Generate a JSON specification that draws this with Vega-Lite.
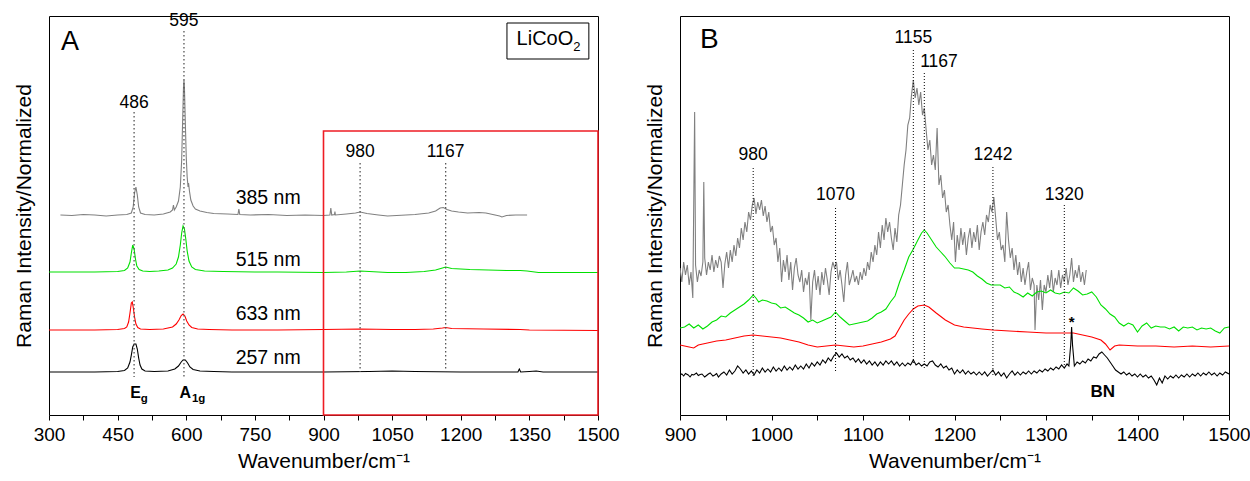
{
"$schema": "https://vega.github.io/schema/vega-lite/v6.json",
"padding": {"left": 12, "top": 11, "right": 5, "bottom": 4},
"background": "white",
"config": {"view": {"stroke": "black", "strokeWidth": 1}, "font": "Liberation Sans", "text": {"font": "Liberation Sans", "color": "black"}},
"bounds": "flush",
"spacing": 82,
"resolve": {"scale": {"color": "independent", "stroke": "independent"}, "legend": {"color": "independent", "stroke": "independent"}},
"datasets": {
"specA": [
{"s":"385 nm","x":325,"y":200},{"s":"385 nm","x":350,"y":199.5},{"s":"385 nm","x":375,"y":200.5},{"s":"385 nm","x":400,"y":200},{"s":"385 nm","x":425,"y":199},{"s":"385 nm","x":450,"y":200},{"s":"385 nm","x":470,"y":200.5},{"s":"385 nm","x":480,"y":202},{"s":"385 nm","x":484,"y":208},{"s":"385 nm","x":487,"y":222},{"s":"385 nm","x":490,"y":228},{"s":"385 nm","x":493,"y":220},{"s":"385 nm","x":496,"y":208},{"s":"385 nm","x":500,"y":202},{"s":"385 nm","x":510,"y":200.5},{"s":"385 nm","x":530,"y":200},{"s":"385 nm","x":550,"y":201},{"s":"385 nm","x":565,"y":203},{"s":"385 nm","x":570,"y":205},{"s":"385 nm","x":572,"y":210},{"s":"385 nm","x":574,"y":205},{"s":"385 nm","x":578,"y":208},{"s":"385 nm","x":583,"y":214},{"s":"385 nm","x":587,"y":228},{"s":"385 nm","x":590,"y":255},{"s":"385 nm","x":592,"y":292},{"s":"385 nm","x":594,"y":328},{"s":"385 nm","x":595,"y":335},{"s":"385 nm","x":596,"y":328},{"s":"385 nm","x":598,"y":292},{"s":"385 nm","x":600,"y":258},{"s":"385 nm","x":602,"y":238},{"s":"385 nm","x":604,"y":228},{"s":"385 nm","x":605,"y":232},{"s":"385 nm","x":607,"y":224},{"s":"385 nm","x":610,"y":215},{"s":"385 nm","x":615,"y":209},{"s":"385 nm","x":620,"y":206},{"s":"385 nm","x":630,"y":204},{"s":"385 nm","x":645,"y":202.5},{"s":"385 nm","x":660,"y":201.5},{"s":"385 nm","x":690,"y":201},{"s":"385 nm","x":713,"y":200.5},{"s":"385 nm","x":715,"y":206},{"s":"385 nm","x":717,"y":200.5},{"s":"385 nm","x":740,"y":200},{"s":"385 nm","x":780,"y":200.5},{"s":"385 nm","x":820,"y":199.5},{"s":"385 nm","x":860,"y":200},{"s":"385 nm","x":900,"y":199.5},{"s":"385 nm","x":914,"y":200},{"s":"385 nm","x":916,"y":207},{"s":"385 nm","x":918,"y":200},{"s":"385 nm","x":924,"y":200.5},{"s":"385 nm","x":925,"y":203.5},{"s":"385 nm","x":926,"y":200},{"s":"385 nm","x":950,"y":201},{"s":"385 nm","x":970,"y":202},{"s":"385 nm","x":980,"y":203},{"s":"385 nm","x":995,"y":201.5},{"s":"385 nm","x":1020,"y":200},{"s":"385 nm","x":1040,"y":199},{"s":"385 nm","x":1060,"y":199.5},{"s":"385 nm","x":1080,"y":200},{"s":"385 nm","x":1100,"y":200.5},{"s":"385 nm","x":1130,"y":202},{"s":"385 nm","x":1145,"y":204},{"s":"385 nm","x":1155,"y":207},{"s":"385 nm","x":1162,"y":207.5},{"s":"385 nm","x":1170,"y":205.5},{"s":"385 nm","x":1180,"y":204},{"s":"385 nm","x":1195,"y":203},{"s":"385 nm","x":1215,"y":202},{"s":"385 nm","x":1240,"y":202.5},{"s":"385 nm","x":1255,"y":202},{"s":"385 nm","x":1270,"y":200.5},{"s":"385 nm","x":1285,"y":199},{"s":"385 nm","x":1290,"y":198},{"s":"385 nm","x":1300,"y":199.5},{"s":"385 nm","x":1320,"y":200},{"s":"385 nm","x":1345,"y":200},
{"s":"515 nm","x":300,"y":143},{"s":"515 nm","x":400,"y":143},{"s":"515 nm","x":450,"y":143.5},{"s":"515 nm","x":465,"y":144.5},{"s":"515 nm","x":472,"y":147},{"s":"515 nm","x":477,"y":153},{"s":"515 nm","x":480,"y":162},{"s":"515 nm","x":483,"y":170},{"s":"515 nm","x":486,"y":166},{"s":"515 nm","x":489,"y":156},{"s":"515 nm","x":492,"y":149},{"s":"515 nm","x":497,"y":145.5},{"s":"515 nm","x":505,"y":144},{"s":"515 nm","x":520,"y":143.5},{"s":"515 nm","x":540,"y":144},{"s":"515 nm","x":560,"y":145},{"s":"515 nm","x":570,"y":147},{"s":"515 nm","x":578,"y":151},{"s":"515 nm","x":583,"y":158},{"s":"515 nm","x":587,"y":170},{"s":"515 nm","x":590,"y":182},{"s":"515 nm","x":593,"y":189},{"s":"515 nm","x":596,"y":186},{"s":"515 nm","x":599,"y":176},{"s":"515 nm","x":602,"y":164},{"s":"515 nm","x":606,"y":154},{"s":"515 nm","x":612,"y":148},{"s":"515 nm","x":620,"y":145.5},{"s":"515 nm","x":640,"y":144},{"s":"515 nm","x":680,"y":143.5},{"s":"515 nm","x":750,"y":143},{"s":"515 nm","x":800,"y":143},{"s":"515 nm","x":900,"y":142.5},{"s":"515 nm","x":950,"y":143},{"s":"515 nm","x":980,"y":144},{"s":"515 nm","x":1000,"y":143.5},{"s":"515 nm","x":1040,"y":142.5},{"s":"515 nm","x":1080,"y":142.5},{"s":"515 nm","x":1120,"y":143.5},{"s":"515 nm","x":1145,"y":145},{"s":"515 nm","x":1160,"y":147},{"s":"515 nm","x":1167,"y":148},{"s":"515 nm","x":1180,"y":146.5},{"s":"515 nm","x":1220,"y":145.5},{"s":"515 nm","x":1260,"y":145},{"s":"515 nm","x":1300,"y":144.5},{"s":"515 nm","x":1330,"y":144.5},{"s":"515 nm","x":1345,"y":144},{"s":"515 nm","x":1370,"y":142.5},{"s":"515 nm","x":1400,"y":142.5},{"s":"515 nm","x":1450,"y":142.5},{"s":"515 nm","x":1500,"y":142.5},
{"s":"633 nm","x":300,"y":85},{"s":"633 nm","x":400,"y":85},{"s":"633 nm","x":450,"y":85.5},{"s":"633 nm","x":465,"y":86.5},{"s":"633 nm","x":470,"y":88},{"s":"633 nm","x":474,"y":93},{"s":"633 nm","x":477,"y":102},{"s":"633 nm","x":480,"y":112},{"s":"633 nm","x":482,"y":113},{"s":"633 nm","x":484,"y":108},{"s":"633 nm","x":487,"y":98},{"s":"633 nm","x":490,"y":91},{"s":"633 nm","x":494,"y":87.5},{"s":"633 nm","x":500,"y":86},{"s":"633 nm","x":520,"y":85.5},{"s":"633 nm","x":550,"y":86},{"s":"633 nm","x":570,"y":88},{"s":"633 nm","x":578,"y":91},{"s":"633 nm","x":584,"y":95},{"s":"633 nm","x":589,"y":99.5},{"s":"633 nm","x":593,"y":101},{"s":"633 nm","x":597,"y":99},{"s":"633 nm","x":601,"y":94},{"s":"633 nm","x":606,"y":90},{"s":"633 nm","x":612,"y":87.5},{"s":"633 nm","x":625,"y":86},{"s":"633 nm","x":650,"y":85.5},{"s":"633 nm","x":700,"y":85},{"s":"633 nm","x":800,"y":85},{"s":"633 nm","x":900,"y":85.5},{"s":"633 nm","x":980,"y":86},{"s":"633 nm","x":1050,"y":85.5},{"s":"633 nm","x":1100,"y":85.5},{"s":"633 nm","x":1140,"y":86},{"s":"633 nm","x":1160,"y":87},{"s":"633 nm","x":1167,"y":87.5},{"s":"633 nm","x":1180,"y":86.5},{"s":"633 nm","x":1250,"y":86},{"s":"633 nm","x":1330,"y":85.5},{"s":"633 nm","x":1350,"y":85},{"s":"633 nm","x":1500,"y":84.5},
{"s":"257 nm","x":300,"y":43},{"s":"257 nm","x":400,"y":43},{"s":"257 nm","x":450,"y":43.5},{"s":"257 nm","x":465,"y":44.5},{"s":"257 nm","x":472,"y":47},{"s":"257 nm","x":477,"y":53},{"s":"257 nm","x":480,"y":60},{"s":"257 nm","x":483,"y":68},{"s":"257 nm","x":486,"y":71},{"s":"257 nm","x":490,"y":71},{"s":"257 nm","x":493,"y":66},{"s":"257 nm","x":496,"y":57},{"s":"257 nm","x":499,"y":50},{"s":"257 nm","x":503,"y":46},{"s":"257 nm","x":510,"y":44},{"s":"257 nm","x":530,"y":43.5},{"s":"257 nm","x":560,"y":44},{"s":"257 nm","x":575,"y":46},{"s":"257 nm","x":583,"y":49},{"s":"257 nm","x":589,"y":53},{"s":"257 nm","x":593,"y":55},{"s":"257 nm","x":598,"y":55},{"s":"257 nm","x":603,"y":52},{"s":"257 nm","x":608,"y":48},{"s":"257 nm","x":615,"y":45.5},{"s":"257 nm","x":630,"y":44},{"s":"257 nm","x":660,"y":43.5},{"s":"257 nm","x":700,"y":43},{"s":"257 nm","x":800,"y":43},{"s":"257 nm","x":900,"y":43},{"s":"257 nm","x":1000,"y":43.5},{"s":"257 nm","x":1050,"y":44},{"s":"257 nm","x":1100,"y":43.5},{"s":"257 nm","x":1200,"y":43},{"s":"257 nm","x":1300,"y":43},{"s":"257 nm","x":1325,"y":43},{"s":"257 nm","x":1328,"y":46},{"s":"257 nm","x":1331,"y":43},{"s":"257 nm","x":1350,"y":43.5},{"s":"257 nm","x":1365,"y":44},{"s":"257 nm","x":1380,"y":43},{"s":"257 nm","x":1500,"y":43}
],
"rulesA": [
{"x":595,"y":384,"y2":38},{"x":486,"y":303,"y2":38},{"x":980,"y":252,"y2":43},{"x":1167,"y":252,"y2":43}
],
"textA": [
{"k":"pk","t":"595","x":595,"y":394},{"k":"pk","t":"486","x":486,"y":312},{"k":"pk","t":"980","x":980,"y":263},{"k":"pk","t":"1167","x":1167,"y":263},
{"k":"nm","t":"385 nm","x":779,"y":217},{"k":"nm","t":"515 nm","x":779,"y":155},{"k":"nm","t":"633 nm","x":779,"y":101},{"k":"nm","t":"257 nm","x":779,"y":57},
{"k":"big","t":"A","x":346,"y":373},
{"k":"mode","t":"E","x":489,"y":22},{"k":"mode","t":"A","x":598,"y":22},
{"k":"sub","t":"g","x":508,"y":16},{"k":"sub","t":"1g","x":627,"y":16},
{"k":"box","t":"LiCoO","x":1384,"y":376},{"k":"boxsub","t":"2","x":1454,"y":368}
],
"specB": [
{"s":"385 nm","x":900,"y":147},{"s":"385 nm","x":902,"y":133},{"s":"385 nm","x":904,"y":153},{"s":"385 nm","x":906,"y":140},{"s":"385 nm","x":908,"y":150},{"s":"385 nm","x":910,"y":130},{"s":"385 nm","x":912,"y":143},{"s":"385 nm","x":914,"y":117},{"s":"385 nm","x":916,"y":303},{"s":"385 nm","x":917,"y":150},{"s":"385 nm","x":919,"y":133},{"s":"385 nm","x":921,"y":145},{"s":"385 nm","x":923,"y":139},{"s":"385 nm","x":925,"y":153},{"s":"385 nm","x":926,"y":233},{"s":"385 nm","x":927,"y":157},{"s":"385 nm","x":929,"y":140},{"s":"385 nm","x":931,"y":153},{"s":"385 nm","x":933,"y":145},{"s":"385 nm","x":935,"y":160},{"s":"385 nm","x":937,"y":143},{"s":"385 nm","x":939,"y":155},{"s":"385 nm","x":941,"y":147},{"s":"385 nm","x":943,"y":159},{"s":"385 nm","x":945,"y":153},{"s":"385 nm","x":947,"y":127},{"s":"385 nm","x":949,"y":151},{"s":"385 nm","x":951,"y":163},{"s":"385 nm","x":953,"y":147},{"s":"385 nm","x":955,"y":165},{"s":"385 nm","x":957,"y":153},{"s":"385 nm","x":959,"y":170},{"s":"385 nm","x":961,"y":159},{"s":"385 nm","x":963,"y":177},{"s":"385 nm","x":965,"y":167},{"s":"385 nm","x":967,"y":187},{"s":"385 nm","x":969,"y":175},{"s":"385 nm","x":971,"y":193},{"s":"385 nm","x":973,"y":183},{"s":"385 nm","x":975,"y":203},{"s":"385 nm","x":977,"y":195},{"s":"385 nm","x":979,"y":210},{"s":"385 nm","x":981,"y":217},{"s":"385 nm","x":983,"y":201},{"s":"385 nm","x":985,"y":213},{"s":"385 nm","x":987,"y":205},{"s":"385 nm","x":989,"y":215},{"s":"385 nm","x":991,"y":199},{"s":"385 nm","x":993,"y":209},{"s":"385 nm","x":995,"y":193},{"s":"385 nm","x":997,"y":203},{"s":"385 nm","x":999,"y":183},{"s":"385 nm","x":1001,"y":189},{"s":"385 nm","x":1003,"y":170},{"s":"385 nm","x":1005,"y":177},{"s":"385 nm","x":1007,"y":153},{"s":"385 nm","x":1009,"y":167},{"s":"385 nm","x":1011,"y":133},{"s":"385 nm","x":1013,"y":155},{"s":"385 nm","x":1015,"y":143},{"s":"385 nm","x":1017,"y":160},{"s":"385 nm","x":1019,"y":135},{"s":"385 nm","x":1021,"y":153},{"s":"385 nm","x":1023,"y":125},{"s":"385 nm","x":1025,"y":147},{"s":"385 nm","x":1027,"y":157},{"s":"385 nm","x":1029,"y":140},{"s":"385 nm","x":1031,"y":133},{"s":"385 nm","x":1033,"y":145},{"s":"385 nm","x":1035,"y":123},{"s":"385 nm","x":1037,"y":137},{"s":"385 nm","x":1039,"y":130},{"s":"385 nm","x":1041,"y":143},{"s":"385 nm","x":1043,"y":95},{"s":"385 nm","x":1045,"y":133},{"s":"385 nm","x":1047,"y":145},{"s":"385 nm","x":1049,"y":125},{"s":"385 nm","x":1051,"y":139},{"s":"385 nm","x":1053,"y":120},{"s":"385 nm","x":1055,"y":143},{"s":"385 nm","x":1057,"y":130},{"s":"385 nm","x":1059,"y":147},{"s":"385 nm","x":1061,"y":135},{"s":"385 nm","x":1063,"y":120},{"s":"385 nm","x":1065,"y":143},{"s":"385 nm","x":1067,"y":153},{"s":"385 nm","x":1069,"y":147},{"s":"385 nm","x":1071,"y":153},{"s":"385 nm","x":1073,"y":135},{"s":"385 nm","x":1075,"y":145},{"s":"385 nm","x":1077,"y":130},{"s":"385 nm","x":1079,"y":113},{"s":"385 nm","x":1081,"y":140},{"s":"385 nm","x":1083,"y":153},{"s":"385 nm","x":1085,"y":130},{"s":"385 nm","x":1087,"y":137},{"s":"385 nm","x":1089,"y":145},{"s":"385 nm","x":1091,"y":133},{"s":"385 nm","x":1093,"y":139},{"s":"385 nm","x":1095,"y":130},{"s":"385 nm","x":1097,"y":143},{"s":"385 nm","x":1099,"y":135},{"s":"385 nm","x":1101,"y":147},{"s":"385 nm","x":1103,"y":139},{"s":"385 nm","x":1105,"y":153},{"s":"385 nm","x":1107,"y":145},{"s":"385 nm","x":1109,"y":163},{"s":"385 nm","x":1111,"y":153},{"s":"385 nm","x":1113,"y":170},{"s":"385 nm","x":1115,"y":160},{"s":"385 nm","x":1117,"y":183},{"s":"385 nm","x":1119,"y":167},{"s":"385 nm","x":1121,"y":190},{"s":"385 nm","x":1123,"y":175},{"s":"385 nm","x":1125,"y":197},{"s":"385 nm","x":1127,"y":183},{"s":"385 nm","x":1129,"y":193},{"s":"385 nm","x":1131,"y":177},{"s":"385 nm","x":1133,"y":165},{"s":"385 nm","x":1135,"y":187},{"s":"385 nm","x":1137,"y":173},{"s":"385 nm","x":1139,"y":200},{"s":"385 nm","x":1141,"y":210},{"s":"385 nm","x":1143,"y":230},{"s":"385 nm","x":1145,"y":250},{"s":"385 nm","x":1147,"y":265},{"s":"385 nm","x":1149,"y":290},{"s":"385 nm","x":1151,"y":297},{"s":"385 nm","x":1153,"y":320},{"s":"385 nm","x":1155,"y":335},{"s":"385 nm","x":1157,"y":317},{"s":"385 nm","x":1159,"y":327},{"s":"385 nm","x":1161,"y":310},{"s":"385 nm","x":1163,"y":323},{"s":"385 nm","x":1165,"y":300},{"s":"385 nm","x":1167,"y":307},{"s":"385 nm","x":1169,"y":285},{"s":"385 nm","x":1171,"y":265},{"s":"385 nm","x":1173,"y":275},{"s":"385 nm","x":1175,"y":250},{"s":"385 nm","x":1177,"y":260},{"s":"385 nm","x":1179,"y":245},{"s":"385 nm","x":1181,"y":287},{"s":"385 nm","x":1183,"y":230},{"s":"385 nm","x":1185,"y":240},{"s":"385 nm","x":1187,"y":217},{"s":"385 nm","x":1189,"y":225},{"s":"385 nm","x":1191,"y":203},{"s":"385 nm","x":1193,"y":210},{"s":"385 nm","x":1195,"y":190},{"s":"385 nm","x":1197,"y":175},{"s":"385 nm","x":1199,"y":193},{"s":"385 nm","x":1201,"y":153},{"s":"385 nm","x":1203,"y":180},{"s":"385 nm","x":1205,"y":165},{"s":"385 nm","x":1207,"y":187},{"s":"385 nm","x":1209,"y":170},{"s":"385 nm","x":1211,"y":183},{"s":"385 nm","x":1213,"y":160},{"s":"385 nm","x":1215,"y":177},{"s":"385 nm","x":1217,"y":187},{"s":"385 nm","x":1219,"y":167},{"s":"385 nm","x":1221,"y":183},{"s":"385 nm","x":1223,"y":173},{"s":"385 nm","x":1225,"y":190},{"s":"385 nm","x":1227,"y":165},{"s":"385 nm","x":1229,"y":183},{"s":"385 nm","x":1231,"y":193},{"s":"385 nm","x":1233,"y":180},{"s":"385 nm","x":1235,"y":200},{"s":"385 nm","x":1237,"y":193},{"s":"385 nm","x":1239,"y":210},{"s":"385 nm","x":1241,"y":203},{"s":"385 nm","x":1243,"y":218},{"s":"385 nm","x":1245,"y":197},{"s":"385 nm","x":1247,"y":175},{"s":"385 nm","x":1249,"y":183},{"s":"385 nm","x":1251,"y":165},{"s":"385 nm","x":1253,"y":170},{"s":"385 nm","x":1255,"y":153},{"s":"385 nm","x":1257,"y":203},{"s":"385 nm","x":1259,"y":175},{"s":"385 nm","x":1261,"y":157},{"s":"385 nm","x":1263,"y":167},{"s":"385 nm","x":1265,"y":145},{"s":"385 nm","x":1267,"y":160},{"s":"385 nm","x":1269,"y":140},{"s":"385 nm","x":1271,"y":153},{"s":"385 nm","x":1273,"y":133},{"s":"385 nm","x":1275,"y":147},{"s":"385 nm","x":1277,"y":130},{"s":"385 nm","x":1279,"y":143},{"s":"385 nm","x":1281,"y":153},{"s":"385 nm","x":1283,"y":125},{"s":"385 nm","x":1285,"y":137},{"s":"385 nm","x":1287,"y":130},{"s":"385 nm","x":1288,"y":85},{"s":"385 nm","x":1290,"y":130},{"s":"385 nm","x":1292,"y":115},{"s":"385 nm","x":1294,"y":135},{"s":"385 nm","x":1296,"y":105},{"s":"385 nm","x":1298,"y":130},{"s":"385 nm","x":1300,"y":123},{"s":"385 nm","x":1302,"y":140},{"s":"385 nm","x":1304,"y":127},{"s":"385 nm","x":1306,"y":145},{"s":"385 nm","x":1308,"y":123},{"s":"385 nm","x":1310,"y":137},{"s":"385 nm","x":1312,"y":130},{"s":"385 nm","x":1314,"y":145},{"s":"385 nm","x":1316,"y":127},{"s":"385 nm","x":1318,"y":140},{"s":"385 nm","x":1320,"y":133},{"s":"385 nm","x":1322,"y":147},{"s":"385 nm","x":1324,"y":130},{"s":"385 nm","x":1326,"y":140},{"s":"385 nm","x":1328,"y":157},{"s":"385 nm","x":1330,"y":133},{"s":"385 nm","x":1332,"y":145},{"s":"385 nm","x":1334,"y":137},{"s":"385 nm","x":1336,"y":150},{"s":"385 nm","x":1338,"y":133},{"s":"385 nm","x":1340,"y":143},{"s":"385 nm","x":1342,"y":130},{"s":"385 nm","x":1344,"y":145},
{"s":"515 nm","x":900,"y":87},{"s":"515 nm","x":905,"y":88},{"s":"515 nm","x":910,"y":91},{"s":"515 nm","x":915,"y":87},{"s":"515 nm","x":920,"y":90},{"s":"515 nm","x":925,"y":86},{"s":"515 nm","x":930,"y":89},{"s":"515 nm","x":935,"y":93},{"s":"515 nm","x":940,"y":95},{"s":"515 nm","x":945,"y":99},{"s":"515 nm","x":950,"y":98},{"s":"515 nm","x":955,"y":102},{"s":"515 nm","x":960,"y":105},{"s":"515 nm","x":965,"y":108},{"s":"515 nm","x":970,"y":111},{"s":"515 nm","x":975,"y":115},{"s":"515 nm","x":980,"y":120},{"s":"515 nm","x":983,"y":117},{"s":"515 nm","x":986,"y":113},{"s":"515 nm","x":990,"y":115},{"s":"515 nm","x":995,"y":114},{"s":"515 nm","x":1000,"y":112},{"s":"515 nm","x":1005,"y":111},{"s":"515 nm","x":1010,"y":107},{"s":"515 nm","x":1015,"y":108},{"s":"515 nm","x":1020,"y":105},{"s":"515 nm","x":1025,"y":102},{"s":"515 nm","x":1030,"y":100},{"s":"515 nm","x":1035,"y":97},{"s":"515 nm","x":1040,"y":93},{"s":"515 nm","x":1045,"y":95},{"s":"515 nm","x":1050,"y":92},{"s":"515 nm","x":1055,"y":94},{"s":"515 nm","x":1060,"y":96},{"s":"515 nm","x":1065,"y":98},{"s":"515 nm","x":1070,"y":103},{"s":"515 nm","x":1075,"y":98},{"s":"515 nm","x":1080,"y":94},{"s":"515 nm","x":1085,"y":90},{"s":"515 nm","x":1090,"y":91},{"s":"515 nm","x":1095,"y":92},{"s":"515 nm","x":1100,"y":93},{"s":"515 nm","x":1105,"y":94},{"s":"515 nm","x":1110,"y":97},{"s":"515 nm","x":1115,"y":101},{"s":"515 nm","x":1120,"y":103},{"s":"515 nm","x":1125,"y":106},{"s":"515 nm","x":1130,"y":113},{"s":"515 nm","x":1135,"y":119},{"s":"515 nm","x":1140,"y":133},{"s":"515 nm","x":1145,"y":145},{"s":"515 nm","x":1150,"y":158},{"s":"515 nm","x":1155,"y":166},{"s":"515 nm","x":1160,"y":175},{"s":"515 nm","x":1164,"y":182},{"s":"515 nm","x":1167,"y":185},{"s":"515 nm","x":1170,"y":182},{"s":"515 nm","x":1175,"y":175},{"s":"515 nm","x":1180,"y":168},{"s":"515 nm","x":1185,"y":163},{"s":"515 nm","x":1190,"y":158},{"s":"515 nm","x":1195,"y":152},{"s":"515 nm","x":1200,"y":147},{"s":"515 nm","x":1205,"y":147},{"s":"515 nm","x":1210,"y":146},{"s":"515 nm","x":1215,"y":145},{"s":"515 nm","x":1220,"y":143},{"s":"515 nm","x":1225,"y":139},{"s":"515 nm","x":1230,"y":136},{"s":"515 nm","x":1235,"y":132},{"s":"515 nm","x":1240,"y":130},{"s":"515 nm","x":1245,"y":130},{"s":"515 nm","x":1250,"y":130},{"s":"515 nm","x":1255,"y":127},{"s":"515 nm","x":1260,"y":128},{"s":"515 nm","x":1265,"y":123},{"s":"515 nm","x":1270,"y":121},{"s":"515 nm","x":1275,"y":118},{"s":"515 nm","x":1280,"y":122},{"s":"515 nm","x":1285,"y":119},{"s":"515 nm","x":1290,"y":123},{"s":"515 nm","x":1295,"y":124},{"s":"515 nm","x":1300,"y":122},{"s":"515 nm","x":1305,"y":125},{"s":"515 nm","x":1310,"y":122},{"s":"515 nm","x":1315,"y":121},{"s":"515 nm","x":1320,"y":123},{"s":"515 nm","x":1325,"y":122},{"s":"515 nm","x":1330,"y":127},{"s":"515 nm","x":1335,"y":124},{"s":"515 nm","x":1340,"y":120},{"s":"515 nm","x":1345,"y":121},{"s":"515 nm","x":1350,"y":123},{"s":"515 nm","x":1355,"y":118},{"s":"515 nm","x":1360,"y":110},{"s":"515 nm","x":1365,"y":106},{"s":"515 nm","x":1370,"y":101},{"s":"515 nm","x":1375,"y":98},{"s":"515 nm","x":1380,"y":92},{"s":"515 nm","x":1385,"y":89},{"s":"515 nm","x":1390,"y":92},{"s":"515 nm","x":1395,"y":90},{"s":"515 nm","x":1400,"y":83},{"s":"515 nm","x":1405,"y":89},{"s":"515 nm","x":1410,"y":92},{"s":"515 nm","x":1415,"y":87},{"s":"515 nm","x":1420,"y":89},{"s":"515 nm","x":1425,"y":88},{"s":"515 nm","x":1430,"y":88},{"s":"515 nm","x":1435,"y":86},{"s":"515 nm","x":1440,"y":88},{"s":"515 nm","x":1445,"y":84},{"s":"515 nm","x":1450,"y":88},{"s":"515 nm","x":1455,"y":87},{"s":"515 nm","x":1460,"y":88},{"s":"515 nm","x":1465,"y":85},{"s":"515 nm","x":1470,"y":87},{"s":"515 nm","x":1475,"y":86},{"s":"515 nm","x":1480,"y":87},{"s":"515 nm","x":1485,"y":84},{"s":"515 nm","x":1490,"y":82},{"s":"515 nm","x":1495,"y":87},{"s":"515 nm","x":1500,"y":88},
{"s":"633 nm","x":900,"y":70},{"s":"633 nm","x":905,"y":69},{"s":"633 nm","x":910,"y":68},{"s":"633 nm","x":915,"y":67},{"s":"633 nm","x":920,"y":70},{"s":"633 nm","x":930,"y":72},{"s":"633 nm","x":940,"y":74},{"s":"633 nm","x":950,"y":75},{"s":"633 nm","x":960,"y":77},{"s":"633 nm","x":970,"y":79},{"s":"633 nm","x":980,"y":80},{"s":"633 nm","x":990,"y":79},{"s":"633 nm","x":1000,"y":78},{"s":"633 nm","x":1010,"y":77},{"s":"633 nm","x":1020,"y":75},{"s":"633 nm","x":1030,"y":73},{"s":"633 nm","x":1040,"y":70},{"s":"633 nm","x":1050,"y":68},{"s":"633 nm","x":1060,"y":69},{"s":"633 nm","x":1070,"y":70},{"s":"633 nm","x":1080,"y":69},{"s":"633 nm","x":1090,"y":68},{"s":"633 nm","x":1100,"y":69},{"s":"633 nm","x":1110,"y":71},{"s":"633 nm","x":1120,"y":73},{"s":"633 nm","x":1130,"y":76},{"s":"633 nm","x":1135,"y":79},{"s":"633 nm","x":1140,"y":87},{"s":"633 nm","x":1145,"y":95},{"s":"633 nm","x":1150,"y":101},{"s":"633 nm","x":1155,"y":106},{"s":"633 nm","x":1160,"y":109},{"s":"633 nm","x":1167,"y":110},{"s":"633 nm","x":1172,"y":108},{"s":"633 nm","x":1180,"y":102},{"s":"633 nm","x":1190,"y":95},{"s":"633 nm","x":1200,"y":90},{"s":"633 nm","x":1210,"y":88},{"s":"633 nm","x":1220,"y":87},{"s":"633 nm","x":1230,"y":86},{"s":"633 nm","x":1242,"y":85},{"s":"633 nm","x":1260,"y":84},{"s":"633 nm","x":1280,"y":83},{"s":"633 nm","x":1300,"y":82},{"s":"633 nm","x":1320,"y":82},{"s":"633 nm","x":1330,"y":82},{"s":"633 nm","x":1340,"y":80},{"s":"633 nm","x":1350,"y":78},{"s":"633 nm","x":1360,"y":75},{"s":"633 nm","x":1365,"y":71},{"s":"633 nm","x":1370,"y":65},{"s":"633 nm","x":1375,"y":69},{"s":"633 nm","x":1380,"y":70},{"s":"633 nm","x":1400,"y":69},{"s":"633 nm","x":1420,"y":69},{"s":"633 nm","x":1440,"y":68},{"s":"633 nm","x":1460,"y":69},{"s":"633 nm","x":1480,"y":68},{"s":"633 nm","x":1500,"y":69},
{"s":"257 nm","x":900,"y":40},{"s":"257 nm","x":902,"y":41},{"s":"257 nm","x":904,"y":39},{"s":"257 nm","x":906,"y":41.5},{"s":"257 nm","x":909,"y":40},{"s":"257 nm","x":911,"y":38},{"s":"257 nm","x":913,"y":40.5},{"s":"257 nm","x":915,"y":40},{"s":"257 nm","x":918,"y":42},{"s":"257 nm","x":920,"y":39.5},{"s":"257 nm","x":922,"y":40.5},{"s":"257 nm","x":924,"y":41},{"s":"257 nm","x":927,"y":38},{"s":"257 nm","x":929,"y":39.5},{"s":"257 nm","x":931,"y":41},{"s":"257 nm","x":933,"y":42},{"s":"257 nm","x":936,"y":39},{"s":"257 nm","x":938,"y":40},{"s":"257 nm","x":940,"y":41.5},{"s":"257 nm","x":942,"y":38},{"s":"257 nm","x":945,"y":41},{"s":"257 nm","x":948,"y":43},{"s":"257 nm","x":951,"y":40},{"s":"257 nm","x":954,"y":45},{"s":"257 nm","x":957,"y":41},{"s":"257 nm","x":960,"y":44},{"s":"257 nm","x":963,"y":49},{"s":"257 nm","x":966,"y":46},{"s":"257 nm","x":969,"y":42},{"s":"257 nm","x":972,"y":45},{"s":"257 nm","x":975,"y":41},{"s":"257 nm","x":978,"y":44},{"s":"257 nm","x":981,"y":40},{"s":"257 nm","x":984,"y":45},{"s":"257 nm","x":987,"y":42},{"s":"257 nm","x":990,"y":47},{"s":"257 nm","x":993,"y":43},{"s":"257 nm","x":996,"y":46},{"s":"257 nm","x":999,"y":43},{"s":"257 nm","x":1002,"y":48},{"s":"257 nm","x":1005,"y":44},{"s":"257 nm","x":1008,"y":47},{"s":"257 nm","x":1011,"y":44},{"s":"257 nm","x":1014,"y":49},{"s":"257 nm","x":1017,"y":45},{"s":"257 nm","x":1020,"y":48},{"s":"257 nm","x":1023,"y":45},{"s":"257 nm","x":1026,"y":50},{"s":"257 nm","x":1029,"y":46},{"s":"257 nm","x":1032,"y":49},{"s":"257 nm","x":1035,"y":46},{"s":"257 nm","x":1038,"y":51},{"s":"257 nm","x":1041,"y":47},{"s":"257 nm","x":1044,"y":52},{"s":"257 nm","x":1047,"y":49},{"s":"257 nm","x":1050,"y":53},{"s":"257 nm","x":1053,"y":50},{"s":"257 nm","x":1056,"y":55},{"s":"257 nm","x":1059,"y":52},{"s":"257 nm","x":1062,"y":57},{"s":"257 nm","x":1065,"y":54},{"s":"257 nm","x":1068,"y":59},{"s":"257 nm","x":1071,"y":62},{"s":"257 nm","x":1074,"y":58},{"s":"257 nm","x":1077,"y":61},{"s":"257 nm","x":1080,"y":57},{"s":"257 nm","x":1083,"y":59},{"s":"257 nm","x":1086,"y":55},{"s":"257 nm","x":1089,"y":57},{"s":"257 nm","x":1092,"y":53},{"s":"257 nm","x":1095,"y":56},{"s":"257 nm","x":1098,"y":52},{"s":"257 nm","x":1101,"y":55},{"s":"257 nm","x":1104,"y":51},{"s":"257 nm","x":1107,"y":54},{"s":"257 nm","x":1110,"y":50},{"s":"257 nm","x":1113,"y":53},{"s":"257 nm","x":1116,"y":49},{"s":"257 nm","x":1119,"y":53},{"s":"257 nm","x":1122,"y":50},{"s":"257 nm","x":1125,"y":54},{"s":"257 nm","x":1128,"y":51},{"s":"257 nm","x":1131,"y":54},{"s":"257 nm","x":1134,"y":50},{"s":"257 nm","x":1137,"y":53},{"s":"257 nm","x":1140,"y":49},{"s":"257 nm","x":1143,"y":52},{"s":"257 nm","x":1146,"y":49},{"s":"257 nm","x":1149,"y":52},{"s":"257 nm","x":1152,"y":50},{"s":"257 nm","x":1155,"y":55},{"s":"257 nm","x":1158,"y":50},{"s":"257 nm","x":1161,"y":52},{"s":"257 nm","x":1164,"y":49},{"s":"257 nm","x":1167,"y":51},{"s":"257 nm","x":1170,"y":49},{"s":"257 nm","x":1173,"y":53},{"s":"257 nm","x":1176,"y":54},{"s":"257 nm","x":1179,"y":50},{"s":"257 nm","x":1182,"y":48},{"s":"257 nm","x":1185,"y":51},{"s":"257 nm","x":1188,"y":47},{"s":"257 nm","x":1191,"y":49},{"s":"257 nm","x":1194,"y":45},{"s":"257 nm","x":1197,"y":47},{"s":"257 nm","x":1200,"y":41},{"s":"257 nm","x":1203,"y":45},{"s":"257 nm","x":1206,"y":42},{"s":"257 nm","x":1209,"y":45},{"s":"257 nm","x":1212,"y":41},{"s":"257 nm","x":1215,"y":44},{"s":"257 nm","x":1218,"y":41},{"s":"257 nm","x":1221,"y":43},{"s":"257 nm","x":1224,"y":40},{"s":"257 nm","x":1227,"y":43},{"s":"257 nm","x":1230,"y":40},{"s":"257 nm","x":1233,"y":43},{"s":"257 nm","x":1236,"y":39},{"s":"257 nm","x":1239,"y":42},{"s":"257 nm","x":1242,"y":45},{"s":"257 nm","x":1245,"y":40},{"s":"257 nm","x":1248,"y":43},{"s":"257 nm","x":1251,"y":39},{"s":"257 nm","x":1254,"y":42},{"s":"257 nm","x":1257,"y":37},{"s":"257 nm","x":1260,"y":41},{"s":"257 nm","x":1263,"y":44},{"s":"257 nm","x":1266,"y":40},{"s":"257 nm","x":1269,"y":43},{"s":"257 nm","x":1272,"y":40},{"s":"257 nm","x":1275,"y":43},{"s":"257 nm","x":1278,"y":41},{"s":"257 nm","x":1281,"y":44},{"s":"257 nm","x":1284,"y":41},{"s":"257 nm","x":1287,"y":44},{"s":"257 nm","x":1290,"y":42},{"s":"257 nm","x":1293,"y":45},{"s":"257 nm","x":1296,"y":43},{"s":"257 nm","x":1299,"y":46},{"s":"257 nm","x":1302,"y":44},{"s":"257 nm","x":1305,"y":47},{"s":"257 nm","x":1308,"y":45},{"s":"257 nm","x":1311,"y":48},{"s":"257 nm","x":1314,"y":46},{"s":"257 nm","x":1317,"y":50},{"s":"257 nm","x":1320,"y":47},{"s":"257 nm","x":1323,"y":51},{"s":"257 nm","x":1325,"y":49},{"s":"257 nm","x":1327,"y":70},{"s":"257 nm","x":1328,"y":88},{"s":"257 nm","x":1329,"y":70},{"s":"257 nm","x":1331,"y":49},{"s":"257 nm","x":1334,"y":53},{"s":"257 nm","x":1337,"y":51},{"s":"257 nm","x":1340,"y":54},{"s":"257 nm","x":1343,"y":52},{"s":"257 nm","x":1346,"y":56},{"s":"257 nm","x":1349,"y":54},{"s":"257 nm","x":1352,"y":58},{"s":"257 nm","x":1355,"y":57},{"s":"257 nm","x":1358,"y":61},{"s":"257 nm","x":1361,"y":63},{"s":"257 nm","x":1364,"y":60},{"s":"257 nm","x":1367,"y":57},{"s":"257 nm","x":1370,"y":53},{"s":"257 nm","x":1373,"y":49},{"s":"257 nm","x":1376,"y":45},{"s":"257 nm","x":1379,"y":43},{"s":"257 nm","x":1382,"y":41},{"s":"257 nm","x":1385,"y":43},{"s":"257 nm","x":1388,"y":40},{"s":"257 nm","x":1391,"y":42},{"s":"257 nm","x":1394,"y":39},{"s":"257 nm","x":1397,"y":41},{"s":"257 nm","x":1400,"y":38},{"s":"257 nm","x":1403,"y":41},{"s":"257 nm","x":1406,"y":38},{"s":"257 nm","x":1409,"y":40},{"s":"257 nm","x":1412,"y":37},{"s":"257 nm","x":1415,"y":39},{"s":"257 nm","x":1418,"y":35},{"s":"257 nm","x":1421,"y":30},{"s":"257 nm","x":1424,"y":37},{"s":"257 nm","x":1427,"y":32},{"s":"257 nm","x":1430,"y":39},{"s":"257 nm","x":1433,"y":36},{"s":"257 nm","x":1436,"y":39},{"s":"257 nm","x":1439,"y":37},{"s":"257 nm","x":1442,"y":40},{"s":"257 nm","x":1445,"y":37},{"s":"257 nm","x":1448,"y":40},{"s":"257 nm","x":1451,"y":38},{"s":"257 nm","x":1454,"y":41},{"s":"257 nm","x":1457,"y":38},{"s":"257 nm","x":1460,"y":41},{"s":"257 nm","x":1463,"y":39},{"s":"257 nm","x":1466,"y":42},{"s":"257 nm","x":1469,"y":39},{"s":"257 nm","x":1472,"y":42},{"s":"257 nm","x":1475,"y":40},{"s":"257 nm","x":1478,"y":43},{"s":"257 nm","x":1481,"y":40},{"s":"257 nm","x":1484,"y":42},{"s":"257 nm","x":1487,"y":39},{"s":"257 nm","x":1490,"y":42},{"s":"257 nm","x":1493,"y":40},{"s":"257 nm","x":1496,"y":43},{"s":"257 nm","x":1500,"y":41}
],
"rulesB": [
{"x":980,"y":247,"y2":38},{"x":1070,"y":207,"y2":43},{"x":1155,"y":365,"y2":50},{"x":1167,"y":342,"y2":45},{"x":1242,"y":248,"y2":38},{"x":1320,"y":210,"y2":48}
],
"textB": [
{"k":"pk","t":"980","x":980,"y":260},{"k":"pk","t":"1070","x":1070,"y":220},{"k":"pk","t":"1155","x":1155,"y":377},{"k":"pk","t":"1167","x":1183,"y":353},{"k":"pk","t":"1242","x":1242,"y":260},{"k":"pk","t":"1320","x":1320,"y":220},
{"k":"star","t":"*","x":1328,"y":93},
{"k":"bn","t":"BN","x":1362,"y":23},
{"k":"big","t":"B","x":932,"y":375}
]
},
"hconcat": [
{
"width": 549, "height": 399,
"encoding": {
"x": {"field": "x", "type": "quantitative", "scale": {"domain": [300, 1500], "nice": false, "zero": false},
 "axis": {"title": "Wavenumber/cm⁻¹", "values": [300,375,450,525,600,675,750,825,900,975,1050,1125,1200,1275,1350,1425,1500], "format": "d", "labelExpr": "datum.value % 150 === 0 ? datum.label : ''", "labelFlush": false, "labelOverlap": false, "tickSize": 5, "tickColor": "black", "domain": false, "grid": false, "labelFontSize": 19, "labelColor": "black", "labelPadding": 5, "titleFontSize": 21, "titleFontWeight": "normal", "titleColor": "black", "titlePadding": 6}},
"y": {"field": "y", "type": "quantitative", "scale": {"domain": [0, 399], "nice": false, "zero": false},
 "axis": {"title": "Raman Intensity/Normalized", "labels": false, "ticks": false, "domain": false, "grid": false, "titleFontSize": 21, "titleFontWeight": "normal", "titleColor": "black", "titlePadding": 15}}
},
"layer": [
{"data": {"name": "specA"}, "mark": {"type": "line", "strokeWidth": 1.1, "clip": true},
 "encoding": {"color": {"field": "s", "type": "nominal", "scale": {"domain": ["385 nm","515 nm","633 nm","257 nm"], "range": ["#808080","#00e000","#ff0000","#000000"]}, "legend": null}, "detail": {"field": "s", "type": "nominal"}}},
{"data": {"values": [{"x": 900, "x2": 1500, "y": 0, "y2": 284}]}, "mark": {"type": "rect", "fillOpacity": 0, "stroke": "#ee1c24", "strokeWidth": 1.6},
 "encoding": {"x2": {"field": "x2"}, "y2": {"field": "y2"}}},
{"data": {"values": [{"x": 1301, "x2": 1480, "y": 356, "y2": 392}]}, "mark": {"type": "rect", "fillOpacity": 0, "stroke": "black", "strokeWidth": 1},
 "encoding": {"x2": {"field": "x2"}, "y2": {"field": "y2"}}},
{"data": {"name": "rulesA"}, "mark": {"type": "rule", "stroke": "#555555", "strokeWidth": 1.3, "strokeDash": [1.5, 2.5]},
 "encoding": {"y2": {"field": "y2"}}},
{"data": {"name": "textA"}, "transform": [{"filter": "datum.k === 'pk'"}], "mark": {"type": "text", "fontSize": 17.5, "align": "center", "baseline": "middle"}, "encoding": {"text": {"field": "t"}}},
{"data": {"name": "textA"}, "transform": [{"filter": "datum.k === 'nm'"}], "mark": {"type": "text", "fontSize": 19.5, "align": "center", "baseline": "middle"}, "encoding": {"text": {"field": "t"}}},
{"data": {"name": "textA"}, "transform": [{"filter": "datum.k === 'big'"}], "mark": {"type": "text", "fontSize": 27, "align": "center", "baseline": "middle"}, "encoding": {"text": {"field": "t"}}},
{"data": {"name": "textA"}, "transform": [{"filter": "datum.k === 'mode'"}], "mark": {"type": "text", "fontSize": 16, "fontWeight": "bold", "align": "center", "baseline": "middle"}, "encoding": {"text": {"field": "t"}}},
{"data": {"name": "textA"}, "transform": [{"filter": "datum.k === 'sub'"}], "mark": {"type": "text", "fontSize": 11.5, "fontWeight": "bold", "align": "center", "baseline": "middle"}, "encoding": {"text": {"field": "t"}}},
{"data": {"name": "textA"}, "transform": [{"filter": "datum.k === 'box'"}], "mark": {"type": "text", "fontSize": 20, "align": "center", "baseline": "middle"}, "encoding": {"text": {"field": "t"}}},
{"data": {"name": "textA"}, "transform": [{"filter": "datum.k === 'boxsub'"}], "mark": {"type": "text", "fontSize": 13, "align": "center", "baseline": "middle"}, "encoding": {"text": {"field": "t"}}}
]
},
{
"width": 549, "height": 399,
"encoding": {
"x": {"field": "x", "type": "quantitative", "scale": {"domain": [900, 1500], "nice": false, "zero": false},
 "axis": {"title": "Wavenumber/cm⁻¹", "values": [900,950,1000,1050,1100,1150,1200,1250,1300,1350,1400,1450,1500], "format": "d", "labelExpr": "datum.value % 100 === 0 ? datum.label : ''", "labelFlush": false, "labelOverlap": false, "tickSize": 5, "tickColor": "black", "domain": false, "grid": false, "labelFontSize": 19, "labelColor": "black", "labelPadding": 5, "titleFontSize": 21, "titleFontWeight": "normal", "titleColor": "black", "titlePadding": 6}},
"y": {"field": "y", "type": "quantitative", "scale": {"domain": [0, 399], "nice": false, "zero": false},
 "axis": {"title": "Raman Intensity/Normalized", "labels": false, "ticks": false, "domain": false, "grid": false, "titleFontSize": 21, "titleFontWeight": "normal", "titleColor": "black", "titlePadding": 15}}
},
"layer": [
{"data": {"name": "specB"}, "mark": {"type": "line", "strokeWidth": 1.1, "clip": true},
 "encoding": {
  "color": {"field": "s", "type": "nominal", "scale": {"domain": ["385 nm","515 nm","633 nm","257 nm"], "range": ["#b4b4b4","#00e000","#ff0000","#666666"]},
   "legend": {"title": null, "orient": "none", "legendX": 407, "legendY": 5, "direction": "vertical", "symbolType": "stroke", "symbolSize": 1936, "symbolStrokeWidth": 1.5, "symbolOffset": 5, "clipHeight": 19, "labelFontSize": 19, "labelFont": "Liberation Sans", "labelColor": "black", "labelOffset": 6, "rowPadding": 5, "padding": 7, "strokeColor": "black", "labelLimit": 200}},
  "stroke": {"field": "s", "type": "nominal", "scale": {"domain": ["385 nm","515 nm","633 nm","257 nm"], "range": ["#808080","#00e000","#ff0000","#000000"]}, "legend": null},
  "detail": {"field": "s", "type": "nominal"}}},
{"data": {"name": "rulesB"}, "mark": {"type": "rule", "stroke": "black", "strokeWidth": 1, "strokeDash": [1, 2]},
 "encoding": {"y2": {"field": "y2"}}},
{"data": {"name": "textB"}, "transform": [{"filter": "datum.k === 'pk'"}], "mark": {"type": "text", "fontSize": 17.5, "align": "center", "baseline": "middle"}, "encoding": {"text": {"field": "t"}}},
{"data": {"name": "textB"}, "transform": [{"filter": "datum.k === 'star'"}], "mark": {"type": "text", "fontSize": 15, "fontWeight": "bold", "align": "center", "baseline": "middle"}, "encoding": {"text": {"field": "t"}}},
{"data": {"name": "textB"}, "transform": [{"filter": "datum.k === 'bn'"}], "mark": {"type": "text", "fontSize": 17, "fontWeight": "bold", "align": "center", "baseline": "middle"}, "encoding": {"text": {"field": "t"}}},
{"data": {"name": "textB"}, "transform": [{"filter": "datum.k === 'big'"}], "mark": {"type": "text", "fontSize": 28, "align": "center", "baseline": "middle"}, "encoding": {"text": {"field": "t"}}}
]
}
]
}
